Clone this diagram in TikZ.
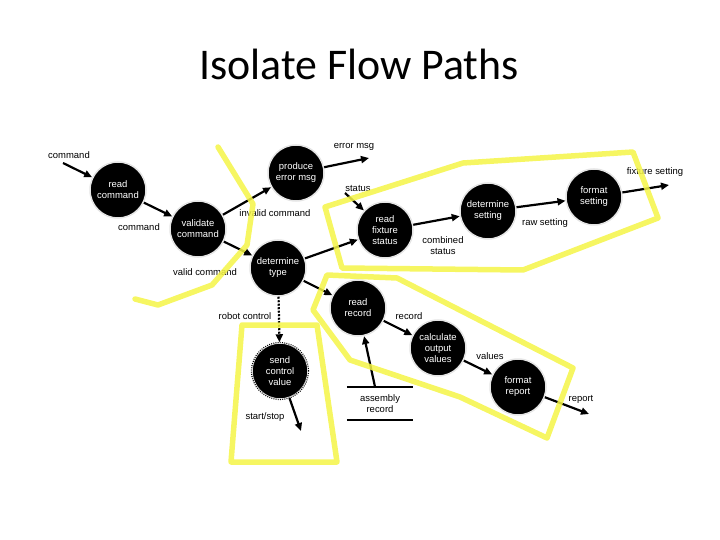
\documentclass[tikz,border=0pt]{standalone}
\usepackage{fontspec}
\setmainfont{Liberation Sans}
\newfontfamily\titlefont{Carlito}
\usetikzlibrary{arrows.meta}
\definecolor{hl}{RGB}{245,245,70}
\newcommand\dfdfont{\fontsize{9.5}{11}\selectfont}
\begin{document}
\begin{tikzpicture}[x=1bp,y=-1bp,
  proc/.style={circle, fill=black, draw=black!10, line width=1.5bp, minimum size=56bp,
    inner sep=0pt, text=white, font=\dfdfont, align=center},
  lab/.style={font=\dfdfont, inner sep=0pt, align=center},
  flow/.style={line width=2.2bp, -{Triangle[length=8bp,width=7bp]}},
  dotflow/.style={flow, dash pattern=on 2bp off 1.5bp},
  hlpath/.style={draw=hl, line width=5.5bp, line join=round, line cap=round, opacity=0.85},
  store/.style={line width=2.5bp}]
\useasboundingbox (0,0) rectangle (720,540);
\node[font=\titlefont\fontsize{44}{50}\selectfont, anchor=base] (title) at (359,80) {Isolate Flow Paths};

% processes
\node[proc] (rc)  at (118,190) {read\\command};
\node[proc] (vc)  at (198,229) {validate\\command};
\node[proc] (pem) at (296,173) {produce\\error msg};
\node[proc] (dt)  at (278,268) {determine\\type};
\node[proc] (rfs) at (385,230) {read\\fixture\\status};
\node[proc] (ds)  at (488,211) {determine\\setting};
\node[proc] (fs)  at (594,197) {format\\setting};
\node[proc] (rr)  at (358,308) {read\\record};
\node[proc] (cov) at (438,348) {calculate\\output\\values};
\node[proc] (scv) at (280,371) {send\\control\\value};
\draw[black, line width=1.2bp, dash pattern=on 0.8bp off 1.4bp] (scv) circle (28.5bp);
\node[proc] (fr)  at (518,387) {format\\report};

% data store
\node[lab, minimum width=66bp, minimum height=33bp] (ar) at (380,403.5) {assembly\\record};
\draw[store] (ar.north west) -- (ar.north east);
\draw[store] (ar.south west) -- (ar.south east);

% free ends
\coordinate (cin)   at (63,163);
\coordinate (eout)  at (369,158);
\coordinate (sin)   at (345,193);
\coordinate (fout)  at (669,185);
\coordinate (ssout) at (301,431);
\coordinate (rout)  at (589,414);

% flows
\draw[flow] (cin) -- (rc);
\draw[flow] (rc) -- (vc);
\draw[flow] (vc) -- (pem);
\draw[flow] (vc) -- (dt);
\draw[flow] (pem) -- (eout);
\draw[flow] (sin) -- (rfs);
\draw[flow] (dt) -- (rfs);
\draw[flow] (rfs) -- (ds);
\draw[flow] (ds) -- (fs);
\draw[flow] (fs) -- (fout);
\draw[flow] (dt) -- (rr);
\draw[dotflow] (dt) -- (scv);
\draw[flow] (scv) -- (ssout);
\draw[flow] ([xshift=-5bp]ar.north) -- (rr);
\draw[flow] (rr) -- (cov);
\draw[flow] (cov) -- (fr);
\draw[flow] (fr) -- (rout);

% labels
\node[lab] (l1)  at (69,155)  {command};
\node[lab] (l2)  at (139,227) {command};
\node[lab] (l3)  at (275,213) {invalid command};
\node[lab] (l4)  at (205,272) {valid command};
\node[lab] (l5)  at (354,147) {error msg};
\node[lab] (l6)  at (358,188) {status};
\node[lab] (l7)  at (443,246) {combined\\status};
\node[lab] (l8)  at (545,223) {raw setting};
\node[lab] (l9)  at (655,172) {fixture setting};
\node[lab] (l10) at (245,316) {robot control};
\node[lab] (l11) at (265,417) {start/stop};
\node[lab] (l12) at (409,316) {record};
\node[lab] (l13) at (490,356) {values};
\node[lab] (l14) at (581,399) {report};

% highlight outlines
\draw[hlpath] (218,147) -- (253,204) -- (247,245) -- (212,285) -- (158,305) -- (135,299);
\draw[hlpath] (325,207) -- (463,163) -- (633,152) -- (658,218) -- (523,270) -- (342,268) -- cycle;
\draw[hlpath] (327,275) -- (397,278) -- (573,368) -- (547,438) -- (460,397) -- (350,360) -- (313,310) -- cycle;
\draw[hlpath] (242,325) -- (317,325) -- (337,462) -- (231,462) -- cycle;
\end{tikzpicture}
\end{document}
